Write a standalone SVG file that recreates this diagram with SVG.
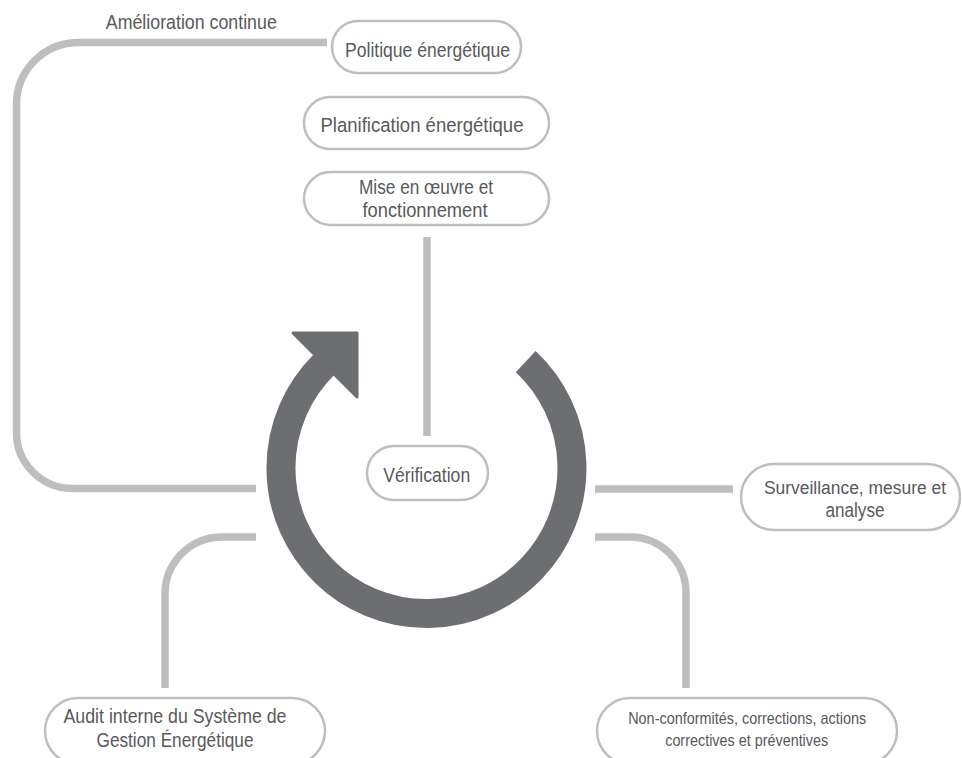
<svg xmlns="http://www.w3.org/2000/svg" width="962" height="758" viewBox="0 0 962 758">
<style>
.conn{fill:none;stroke:#bcbec0;stroke-width:7.5;stroke-linecap:butt}
.box{fill:#ffffff;stroke:#bcbec0;stroke-width:2.5}
.t{font-family:"Liberation Sans",Arial,sans-serif;font-size:20.5px;fill:#58595b;text-anchor:middle}
.m{font-size:18px}
.s{font-size:16.5px}
</style>
<rect x="0" y="0" width="962" height="758" fill="#ffffff"/>
<g id="connectors">
<path class="conn" d="M 256 488.5 H 72 A 56 56 0 0 1 16.5 432.5 V 104.5 A 62 62 0 0 1 78.5 42.5 H 327"/>
<path class="conn" d="M 256 537 H 222 A 57 57 0 0 0 165 594 V 688"/>
<path class="conn" d="M 595 489 H 733"/>
<path class="conn" d="M 595 537 H 630 A 56 56 0 0 1 686 593 V 688"/>
<path class="conn" d="M 427 237 V 436"/>
</g>
<g id="cycle">
<path d="M 525.7 361.6 A 145.5 145.5 0 1 1 323.6 365.1" fill="none" stroke="#6d6e71" stroke-width="29"/>
<polygon points="293,333 357,333 357,397" fill="#6d6e71" stroke="#6d6e71" stroke-width="3" stroke-linejoin="round"/>
</g>
<g id="label-amelioration">
<text class="t" x="191.3" y="28.5" textLength="171" lengthAdjust="spacingAndGlyphs">Amélioration continue</text>
</g>
<g id="node-politique">
<rect class="box" x="332" y="21" width="189" height="52" rx="26"/>
<text class="t" x="427.5" y="56.5" textLength="165" lengthAdjust="spacingAndGlyphs">Politique énergétique</text>
</g>
<g id="node-planification">
<rect class="box" x="304" y="97" width="245" height="52" rx="26"/>
<text class="t" x="422" y="131.5" textLength="203" lengthAdjust="spacingAndGlyphs">Planification énergétique</text>
</g>
<g id="node-mise">
<rect class="box" x="304" y="172" width="245" height="53" rx="26.5"/>
<text class="t" x="426" y="194" textLength="134" lengthAdjust="spacingAndGlyphs">Mise en œuvre et</text>
<text class="t" x="425" y="217" textLength="125" lengthAdjust="spacingAndGlyphs">fonctionnement</text>
</g>
<g id="node-verification">
<rect class="box" x="367" y="446" width="121" height="54" rx="27"/>
<text class="t" x="426.7" y="481.5" textLength="87" lengthAdjust="spacingAndGlyphs">Vérification</text>
</g>
<g id="node-surveillance">
<rect class="box" x="741" y="464" width="219" height="66" rx="33"/>
<text class="t m" x="855" y="494" textLength="182" lengthAdjust="spacingAndGlyphs">Surveillance, mesure et</text>
<text class="t" x="855" y="516.5" textLength="59" lengthAdjust="spacingAndGlyphs">analyse</text>
</g>
<g id="node-audit">
<rect class="box" x="45" y="698" width="280" height="66" rx="33"/>
<text class="t" x="175" y="723.3" textLength="223" lengthAdjust="spacingAndGlyphs">Audit interne du Système de</text>
<text class="t" x="175" y="746.7" textLength="157" lengthAdjust="spacingAndGlyphs">Gestion Énergétique</text>
</g>
<g id="node-nonconformites">
<rect class="box" x="597" y="698" width="300" height="66" rx="33"/>
<text class="t s" x="747.2" y="723.5" textLength="238" lengthAdjust="spacingAndGlyphs">Non-conformités, corrections, actions</text>
<text class="t s" x="746.7" y="746" textLength="163" lengthAdjust="spacingAndGlyphs">correctives et préventives</text>
</g>
</svg>
